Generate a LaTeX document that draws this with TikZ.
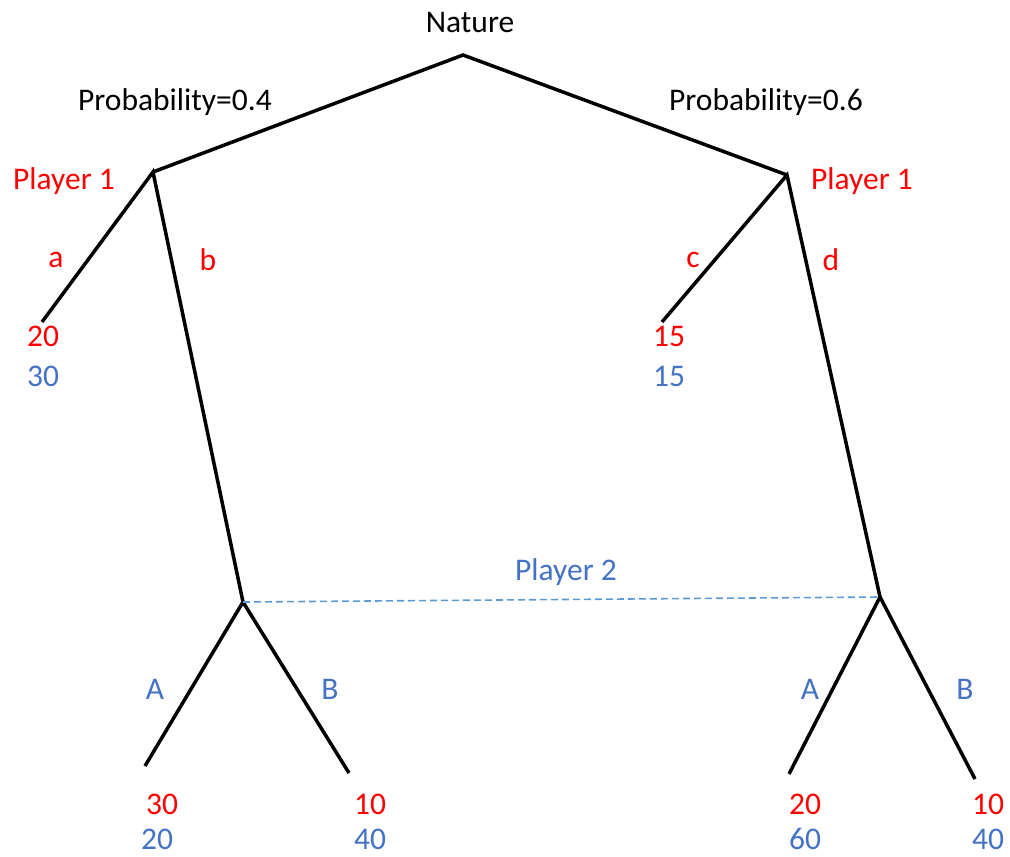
\documentclass[tikz,border=0pt]{standalone}
\usepackage{fontspec}
\setmainfont{Carlito}
\definecolor{pred}{HTML}{FF0000}
\definecolor{pblue}{HTML}{4472C4}
\definecolor{dblue}{HTML}{5B9BD5}
\begin{document}
\begin{tikzpicture}[x=1pt,y=-1pt,
  edge/.style={line width=3.5pt,black},
  lbl/.style={font=\fontsize{31.5}{38}\selectfont,inner sep=0pt,anchor=center},
  redl/.style={lbl,text=pred},
  bluel/.style={lbl,text=pblue}]
\useasboundingbox (0,0) rectangle (1010,857);
\coordinate (root) at (463,55);
\coordinate (p1l) at (153,172);
\coordinate (p1r) at (787,175);
\coordinate (la) at (42,322);
\coordinate (lc) at (662,322);
\coordinate (p2l) at (243,602);
\coordinate (p2r) at (880,597);
\coordinate (lA1) at (145,766);
\coordinate (lB1) at (349,773);
\coordinate (lA2) at (789,774);
\coordinate (lB2) at (975,779);
\draw[edge,line join=miter] (p1l) -- (root) -- (p1r);
\draw[edge] (la) -- (p1l) -- (p2l);
\draw[edge] (lc) -- (p1r) -- (p2r);
\draw[edge] (lA1) -- (p2l) -- (lB1);
\draw[edge] (lA2) -- (p2r) -- (lB2);
\draw[dblue,line width=1.6pt,dash pattern=on 7pt off 4pt] (p2l) -- (p2r);
\node[lbl] (nat) at (470,23) {Nature};
\node[lbl] (pr4) at (175,102) {Probability=0.4};
\node[lbl] (pr6) at (766,102) {Probability=0.6};
\node[redl] (pl1l) at (64,181) {Player 1};
\node[redl] (pl1r) at (862,181) {Player 1};
\node[redl] (ta) at (56,260) {a};
\node[redl] (tb) at (208,260) {b};
\node[redl] (tc) at (693,260) {c};
\node[redl] (td) at (831,260) {d};
\node[redl] (v1) at (43,336) {20};
\node[bluel] (w1) at (43,376) {30};
\node[redl] (v2) at (669,336) {15};
\node[bluel] (w2) at (669,376) {15};
\node[bluel] (pl2) at (566,572) {Player 2};
\node[bluel] (tA1) at (155,689) {A};
\node[bluel] (tB1) at (330,689) {B};
\node[bluel] (tA2) at (810,689) {A};
\node[bluel] (tB2) at (965,689) {B};
\node[redl] (v3) at (162,804) {30};
\node[bluel] (w3) at (157,839) {20};
\node[redl] (v4) at (370,804) {10};
\node[bluel] (w4) at (370,839) {40};
\node[redl] (v5) at (805,804) {20};
\node[bluel] (w5) at (805,839) {60};
\node[redl] (v6) at (988,804) {10};
\node[bluel] (w6) at (988,839) {40};
\end{tikzpicture}
\end{document}
